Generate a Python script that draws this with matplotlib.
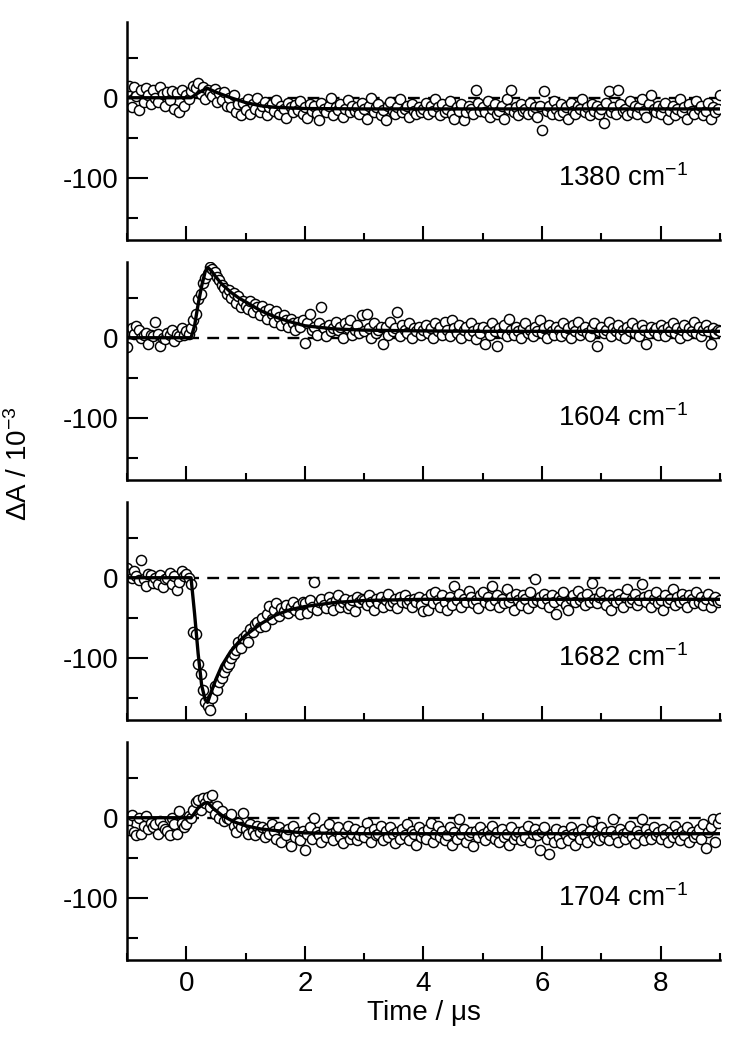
import numpy as np
import matplotlib
matplotlib.use("Agg")
import matplotlib.pyplot as plt
from matplotlib.ticker import MultipleLocator, NullFormatter

plt.rcParams["font.family"] = ["Liberation Sans", "DejaVu Sans"]
plt.rcParams["mathtext.fontset"] = "custom"
plt.rcParams["mathtext.rm"] = "Liberation Sans"
plt.rcParams["mathtext.it"] = "Liberation Sans:italic"
plt.rcParams["axes.unicode_minus"] = False

# sampling of the transients (us)
t_start = -1.0
dt = 0.04

wavenumbers = ["1380", "1604", "1682", "1704"]

# measured dA (x 1e-3), one row per microsecond
da_1380 = [
    8, 15, -12, 14, 2, -15, 10, -5, 12, 3, -8, 10, 0, -5, 14, 5, -10, 7, -3, 9, -14, 6, -18, 10, -10,
    4, -2, 8, 15, 12, 18, 5, 14, -2, 10, 6, 2, 11, -5, 6, -3, 7, -10, 0, -12, 3, -18, -8, -22, -6,
    -15, -2, -20, -8, -14, 0, -18, -10, -5, -22, -12, -8, -16, -3, -20, -10, -14, -25, -6, -12, -18, -9, -15, -4, -20,
    -12, -25, -8, -16, -10, -20, -28, -6, -14, -18, -10, 0, -22, -12, -15, -8, -24, -14, -3, -18, -10, -16, -12, -20, -6,
    -14, -26, -10, 0, -18, -12, -8, -22, -15, -28, -10, -5, -16, -20, -12, -2, -18, -14, -10, -24, -8, -16, -20, -12, -18,
    -14, -6, -20, -10, -16, -2, -12, -22, -8, -18, -14, -4, -20, -26, -12, -16, -8, -28, -18, -10, -14, -20, 10, -6, -16,
    -12, -18, -4, -24, -14, -8, -20, -16, -10, -26, -2, -14, 10, -18, -12, -22, -8, -16, -14, -20, -6, -18, -12, -24, -10,
    -40, 8, -16, -10, -20, -4, -14, -22, -8, -18, -12, -26, -6, -16, -20, -10, -14, -2, -18, -12, -22, -8, -16, -10, -20,
    -14, -32, -6, 8, -18, -12, -20, 10, -8, -16, -14, -22, -4, -18, -10, -20, -12, -2, -16, -24, -8, 4, -14, -18, -10,
    -20, -12, -6, -26, -16, -10, -22, -14, -2, -18, -12, -26, -8, -16, -20, -4, -14, -10, -22, -16, -6, -26, -12, -18, -14,
    4,
]
da_1604 = [
    -12, 8, 12, 5, 15, 10, 0, 3, 6, -8, 4, 2, 20, 5, -10, 0, -2, 6, 3, 10, -4, 5, 2, 12, 3,
    8, 5, 12, 22, 30, 48, 55, 68, 75, 80, 88, 86, 82, 76, 72, 66, 62, 55, 60, 50, 56, 44, 52, 38, 46,
    40, 36, 46, 32, 42, 38, 28, 40, 34, 24, 36, 30, 20, 34, 26, 16, 28, 22, 14, 24, 18, 10, 20, 14, 22,
    -6, 18, 30, 10, 14, 4, 18, 38, 12, 2, 16, 8, 12, 20, 10, 14, 0, 18, 12, 22, 4, 10, 16, 6, 28,
    8, 30, 12, 0, 18, 6, 10, 14, -8, 14, 4, 20, 8, 12, 32, 2, 16, 10, 6, 18, 0, 12, 8, 14, 4,
    10, 16, 6, 12, 0, 18, 8, 14, 4, 20, 10, 2, 22, 12, 6, 16, 0, 10, 14, 4, 18, 8, -2, 12, 6,
    14, -8, 10, 4, 18, 8, -10, 12, 6, 16, 2, 24, 10, 4, 14, 8, 0, 12, 18, 6, 10, 2, 14, 8, 22,
    6, 12, 0, 16, 8, 4, 14, 10, 2, 18, 6, 12, 0, 16, 8, 20, 4, 10, 14, 6, 2, 12, 18, -10, 8,
    14, 6, 10, 20, 2, 12, 8, 16, 4, 10, 0, 14, 8, 18, 6, 12, 2, 16, 10, -8, 6, 14, 8, 12, 4,
    16, 10, 2, 14, 8, 18, 6, 12, 0, 10, 16, 4, 12, 8, 20, 6, 14, 2, 10, 16, 8, -8, 12, 6, 10,
    8,
]
da_1682 = [
    12, 5, 0, 8, 2, -3, 22, -2, -10, 5, 3, -6, 0, -8, 4, -12, -2, 0, 6, -8, 2, -15, -5, 8, 2,
    5, 0, -8, -68, -70, -108, -120, -140, -155, -160, -166, -150, -135, -140, -130, -125, -118, -112, -108, -100, -95, -90, -80, -88, -75,
    -72, -80, -64, -68, -58, -55, -62, -50, -60, -45, -35, -52, -40, -32, -48, -38, -42, -34, -44, -36, -30, -40, -35, -46, -30,
    -32, -44, -28, -36, -5, -40, -30, -26, -34, -38, -24, -32, -40, -28, -22, -36, -30, -26, -38, -34, -28, -42, -24, -30, -26,
    -28, -34, -22, -30, -40, -26, -32, -24, -36, -28, -20, -34, -30, -26, -38, -24, -30, -22, -32, -28, -36, -26, -30, -24, -34,
    -42, -26, -40, -20, -32, -18, -28, -36, -22, -30, -40, -24, -34, -10, -28, -20, -36, -26, -30, -16, -24, -32, -28, -38, -22,
    -18, -30, -24, -34, -10, -28, -22, -36, -26, -32, -14, -30, -24, -40, -20, -28, -34, -22, -26, -38, -18, -30, -2, -28, -24,
    -32, -20, -26, -36, -22, -30, -46, -24, -28, -18, -34, -40, -26, -22, -30, -16, -28, -24, -34, -20, -30, -6, -26, -32, -24,
    -18, -28, -34, -22, -40, -26, -30, -20, -28, -36, -24, -14, -30, -26, -20, -34, -28, -8, -24, -30, -22, -36, -26, -18, -32,
    -28, -40, -22, -30, -26, -14, -34, -24, -30, -20, -28, -36, -22, -26, -32, -18, -30, -24, -34, -26, -20, -36, -28, -24, -30,
    -28,
]
da_1704 = [
    -5, -15, 3, -18, -22, 0, -20, -10, 2, -14, -6, -12, -8, -20, -4, -10, -14, -16, -22, 0, -8, -20, 8, -6, -12,
    -8, 2, 0, 10, 20, 22, 10, 25, 18, 26, 14, 28, 5, 15, 0, 8, -4, 0, -2, 5, -10, -18, -6, -12, 6,
    -14, -20, -8, -16, -22, -10, -18, -12, -24, -14, -20, -8, -16, -26, -12, -30, -18, -22, -14, -35, -10, -24, -18, -28, -16,
    -40, -20, -12, -26, 0, -18, -22, -30, -14, -24, -8, -20, -28, -16, -12, -24, -32, -18, -10, -26, -20, -14, -28, -22, -16,
    -24, -6, -18, -30, -14, -22, -20, -10, -28, -16, -24, -12, -20, -32, -18, -26, -14, -22, -8, -28, -16, -20, -34, -12, -24,
    -18, -26, -14, -6, -30, -20, -10, -24, -16, -28, -22, -12, -34, -18, -26, -2, -20, -14, -30, -22, -18, -36, -16, -24, -12,
    -20, -28, -16, -22, -10, -26, -18, -30, -14, -24, -20, -34, -12, -26, -22, -18, -28, -16, -24, -10, -30, -20, -14, -22, -40,
    -18, -12, -26, -46, -20, -30, -14, -24, -32, -16, -22, -28, -12, -20, -34, -18, -26, -14, -22, -30, -16, -4, -24, -20, -28,
    -12, -24, -18, -28, -16, -2, -22, -30, -14, -20, -26, -18, -10, -24, -32, -16, -22, -2, -28, -14, -20, -26, -12, -22, -18,
    -26, -14, -22, -30, -18, -24, -10, -20, -28, -16, -22, -12, -30, -18, -24, -20, -14, -26, -8, -38, -18, -12, -2, -30, -6,
    0,
]

# fitted kinetic traces (knot times in us, values x 1e-3)
fit_t_1380 = [-1, 0.08, 0.2, 0.35, 0.5, 0.75, 1.0, 1.25, 1.5, 2.0, 3.0, 9]
fit_y_1380 = [0, 0, 6, 12, 7, 0, -6, -10, -12, -13.5, -14, -14]
fit_t_1604 = [-1, 0.08, 0.14, 0.2, 0.26, 0.32, 0.36, 0.42, 0.5, 0.6, 0.75, 0.9, 1.0,
              1.25, 1.5, 1.75, 2.0, 2.5, 3.0, 4.0, 5.0, 9]
fit_y_1604 = [0, 0, 15, 42, 65, 83, 88, 84, 76, 67, 57, 49, 45, 34, 26, 20, 15, 11,
              9.5, 8.5, 8, 8]
fit_t_1682 = [-1, 0.08, 0.14, 0.2, 0.26, 0.32, 0.36, 0.42, 0.5, 0.6, 0.75, 0.9, 1.0,
              1.25, 1.5, 1.75, 2.0, 2.5, 3.0, 4.0, 9]
fit_y_1682 = [0, 0, -45, -95, -135, -153, -156, -143, -127, -110, -92, -79, -72,
              -58, -47, -40, -36, -31, -28.5, -27, -27]
fit_t_1704 = [-1, 0.08, 0.2, 0.3, 0.36, 0.45, 0.6, 0.8, 1.0, 1.25, 1.5, 2.0, 3.0, 9]
fit_y_1704 = [0, 0, 12, 18, 19, 12, 3, -5, -10, -14, -16, -19, -20, -20]

data = [da_1380, da_1604, da_1682, da_1704]
fits = [(fit_t_1380, fit_y_1380), (fit_t_1604, fit_y_1604),
        (fit_t_1682, fit_y_1682), (fit_t_1704, fit_y_1704)]

fig = plt.figure(figsize=(7.5, 10.54), dpi=100)

left = 0.1693
width = 0.7907
height = 0.2070
bottoms = [0.7723, 0.5446, 0.3169, 0.0892]

for i, (wn, vals, (ft, fy)) in enumerate(zip(wavenumbers, data, fits)):
    ax = fig.add_axes([left, bottoms[i], width, height])
    t = t_start + dt * np.arange(len(vals))

    ax.axhline(0, color="black", lw=1.7, dashes=(5, 3.5), zorder=1)
    ax.plot(t, vals, "o", ms=7.3, mfc="white", mec="black", mew=1.05, zorder=2)
    ax.plot(ft, fy, color="black", lw=2.4, zorder=3)

    ax.set_xlim(-1, 9)
    ax.set_ylim(-178, 95)

    for s in ["top", "right"]:
        ax.spines[s].set_visible(False)
    for s in ["left", "bottom"]:
        ax.spines[s].set_linewidth(1.8)

    ax.xaxis.set_major_locator(MultipleLocator(2))
    ax.xaxis.set_minor_locator(MultipleLocator(1))
    ax.yaxis.set_major_locator(MultipleLocator(100))
    ax.yaxis.set_minor_locator(MultipleLocator(50))

    ax.tick_params(axis="x", which="major", direction="in", length=10, width=1.5,
                   labelsize=20, pad=8)
    ax.tick_params(axis="x", which="minor", direction="in", length=5, width=1.5)
    ax.tick_params(axis="y", which="major", direction="in", length=15, width=1.5,
                   labelsize=20, pad=6)
    ax.tick_params(axis="y", which="minor", direction="in", length=8, width=1.5)

    if i < 3:
        ax.xaxis.set_major_formatter(NullFormatter())
    else:
        ax.set_xlabel("Time / \u03bcs", fontsize=20, labelpad=2)

    ax.text(6.27, -100, wn + r" cm$^{-1}$", fontsize=20, ha="left", va="center")

fig.text(0.025, 0.56, "\u0394A / 10$^{-3}$",
         rotation=90, fontsize=20, ha="center", va="center")

fig.savefig("out.png", dpi=100)
